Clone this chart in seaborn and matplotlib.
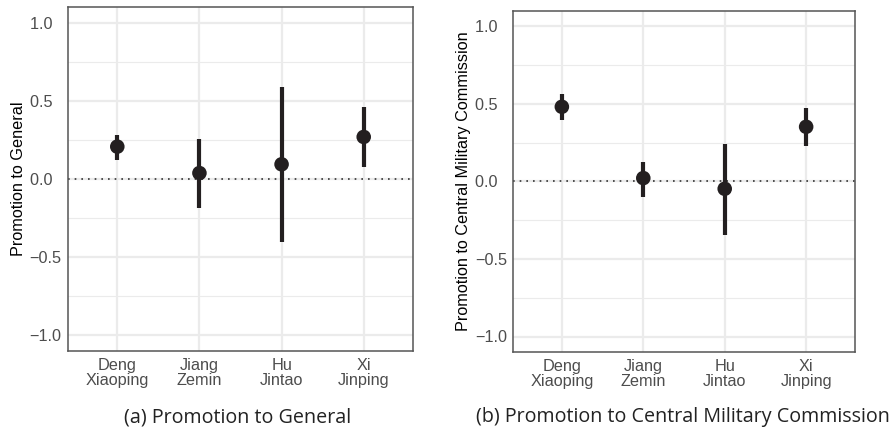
import numpy as np
import pandas as pd
import matplotlib.pyplot as plt
import seaborn as sns

sns.set_style("white")

leaders = ["Deng\nXiaoping", "Jiang\nZemin", "Hu\nJintao", "Xi\nJinping"]
y_ticks = [-1.0, -0.5, 0.0, 0.5, 1.0]
y_ticklabels = ["\u22121.0", "\u22120.5", "0.0  ", "0.5  ", "1.0  "]

# (a) Promotion to General
gen_est = [0.207, 0.038, 0.094, 0.269]
gen_lo = [0.122, -0.186, -0.401, 0.079]
gen_hi = [0.281, 0.256, 0.586, 0.461]

# (b) Promotion to Central Military Commission
cmc_est = [0.482, 0.022, -0.047, 0.353]
cmc_lo = [0.398, -0.097, -0.342, 0.226]
cmc_hi = [0.566, 0.129, 0.245, 0.477]

panels = [
    ("Promotion to General", "(a) Promotion to General", gen_est, gen_lo, gen_hi),
    ("Promotion to Central Military Commission", "(b) Promotion to Central Military Commission",
     cmc_est, cmc_lo, cmc_hi),
]

fig = plt.figure(figsize=(8.94, 4.38), dpi=100)
W, H = 894, 438
boxes = [(68, 7, 413, 351), (513, 11, 855, 352)]
caption_x = [238, 683]

ink = "#231f20"
for (ylab, caption, est, lo, hi), (x0, y0, x1, y1), cx in zip(panels, boxes, caption_x):
    ax = fig.add_axes([x0 / W, 1 - y1 / H, (x1 - x0) / W, (y1 - y0) / H])
    df = pd.DataFrame({"leader": leaders, "est": est, "lo": lo, "hi": hi})

    ax.axhline(0, color="#333333", linestyle=(0, (1, 3)), linewidth=1.2, zorder=2)
    ax.vlines(np.arange(len(df)), df["lo"], df["hi"], color=ink, linewidth=3, zorder=3)
    sns.scatterplot(data=df, x="leader", y="est", ax=ax, color=ink, s=110,
                    edgecolor="none", zorder=4)

    ax.set_xlim(-0.6, 3.6)
    ax.set_ylim(-1.1, 1.1)
    ax.set_yticks(y_ticks)
    ax.set_yticklabels(y_ticklabels)
    ax.set_yticks([-0.75, -0.25, 0.25, 0.75], minor=True)
    ax.grid(True, which="major", color="#ebebeb", linewidth=1.6)
    ax.grid(True, which="minor", axis="y", color="#ebebeb", linewidth=0.8)
    ax.set_axisbelow(True)

    ax.tick_params(axis="both", which="major", direction="out", length=3.5, width=1,
                   color="#4d4d4d", labelcolor="#4d4d4d", labelsize=11.7, pad=1)
    ax.tick_params(axis="x", which="major", pad=1.5)
    ax.tick_params(axis="both", which="minor", length=0)
    for lab in ax.get_xticklabels():
        lab.set_linespacing(1.0)
        lab.set_family("Liberation Sans")
    for lab in ax.get_yticklabels():
        lab.set_family("Liberation Sans")

    for sp in ax.spines.values():
        sp.set_color("#555555")
        sp.set_linewidth(1.1)

    ax.set_xlabel("")
    ax.set_ylabel(ylab, fontsize=11.7, family="Liberation Sans", color="black", labelpad=3)

    fig.text(cx / W, 1 - 417 / H, caption, ha="center", va="center",
             fontsize=14.2, family="Open Sans", color="#222222")

plt.savefig("out.png", dpi=100)
